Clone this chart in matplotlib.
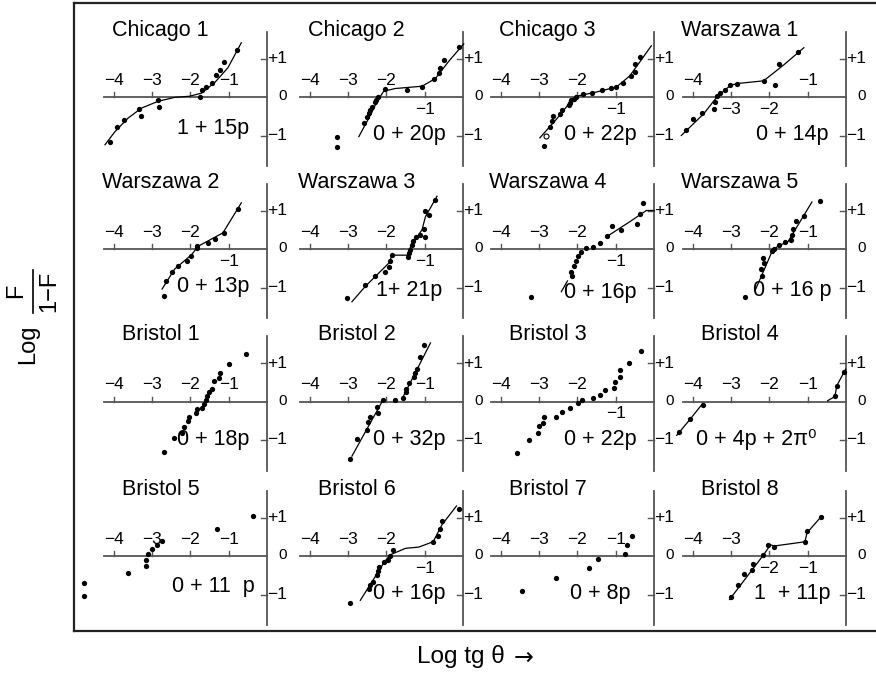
import matplotlib
matplotlib.use('Agg')
import matplotlib.pyplot as plt
from matplotlib.lines import Line2D

plt.rcParams['font.family'] = ['Liberation Sans', 'DejaVu Sans']

# ---- data (log tg theta, log F/(1-F)) ----
names = ['Chicago 1', 'Chicago 2', 'Chicago 3', 'Warszawa 1',
         'Warszawa 2', 'Warszawa 3', 'Warszawa 4', 'Warszawa 5',
         'Bristol 1', 'Bristol 2', 'Bristol 3', 'Bristol 4',
         'Bristol 5', 'Bristol 6', 'Bristol 7', 'Bristol 8']
formulas = ['1 + 15p', '0 + 20p', '0 + 22p', '0 + 14p',
            '0 + 13p', '1+ 21p', '0 + 16p', '0 + 16 p',
            '0 + 18p', '0 + 32p', '0 + 22p', '0 + 4p + 2\u03c0\u2070',
            '0 + 11  p', '0 + 16p', '0 + 8p', '1  + 11p']
# tick labels drawn under the axis line (the rest sit above it)
labels_below = [[], [-1], [-1], [-3, -2],
                [-1], [-1], [-1], [],
                [], [], [-1], [],
                [], [-1], [], [-2, -1]]
tick_vals = [-4, -3, -2, -1]

chicago1_pts = [(-4.09, -1.17), (-3.91, -0.79), (-3.73, -0.61), (-3.34, -0.30), (-3.30, -0.49),
                (-2.84, -0.07), (-2.82, -0.26), (-1.76, -0.01), (-1.70, 0.17), (-1.60, 0.26),
                (-1.43, 0.37), (-1.33, 0.56), (-1.22, 0.71), (-1.11, 0.91), (-0.78, 1.22)]
chicago1_fit = [[(-4.23, -1.24), (-3.97, -0.90), (-3.63, -0.55), (-3.28, -0.29), (-2.84, -0.11),
                 (-2.41, -0.01), (-2.02, 0.02), (-1.71, 0.10), (-1.37, 0.37), (-1.02, 0.76),
                 (-0.67, 1.41)]]

chicago2_pts = [(-3.29, -1.03), (-3.29, -1.29), (-2.58, -0.68), (-2.50, -0.53), (-2.46, -0.42),
                (-2.42, -0.33), (-2.37, -0.27), (-2.30, -0.13), (-2.26, -0.07), (-2.23, -0.01),
                (-2.03, 0.22), (-1.46, 0.17), (-1.07, 0.26), (-0.77, 0.48), (-0.63, 0.63),
                (-0.61, 0.76), (-0.50, 0.96), (-0.10, 1.30)]
chicago2_fit = [[(-2.72, -1.03), (-2.46, -0.55), (-2.24, -0.11), (-2.07, 0.15), (-1.77, 0.22),
                 (-1.07, 0.28), (-0.72, 0.48), (-0.37, 0.93), (0.02, 1.38)]]

chicago3_pts = [(-2.88, -1.28), (-2.72, -0.78), (-2.66, -0.63), (-2.63, -0.50), (-2.46, -0.43),
                (-2.39, -0.35), (-2.23, -0.20), (-2.20, -0.15), (-2.16, -0.09), (-2.10, -0.04),
                (-2.04, -0.01), (-1.85, 0.09), (-1.63, 0.11), (-1.35, 0.17), (-1.11, 0.23),
                (-0.98, 0.27), (-0.81, 0.36), (-0.61, 0.55), (-0.49, 0.65), (-0.49, 0.87),
                (-0.36, 1.04)]
chicago3_open = [(-2.83, -1.00)]
chicago3_fit = [[(-2.98, -1.06), (-2.55, -0.58), (-2.20, -0.15), (-1.98, 0.03), (-1.50, 0.13),
                 (-0.98, 0.26), (-0.63, 0.55), (-0.07, 1.33)]]

warszawa1_pts = [(-4.19, -0.85), (-3.99, -0.58), (-3.77, -0.42), (-3.45, -0.30), (-3.43, -0.13),
                 (-3.37, 0.02), (-3.28, 0.11), (-3.15, 0.17), (-3.02, 0.32), (-2.84, 0.35),
                 (-2.15, 0.42), (-1.86, 0.32), (-1.74, 0.87), (-1.26, 1.17)]
warszawa1_fit = [[(-4.30, -1.00), (-3.71, -0.43), (-3.37, 0.00), (-3.02, 0.30), (-2.84, 0.35),
                  (-2.15, 0.42), (-1.63, 0.83), (-1.10, 1.28)]]

warszawa2_pts = [(-2.69, -1.22), (-2.65, -0.84), (-2.48, -0.60), (-2.32, -0.43), (-2.10, -0.30),
                 (-1.99, -0.17), (-1.84, 0.03), (-1.82, 0.07), (-1.54, 0.16), (-1.35, 0.27),
                 (-1.13, 0.42), (-0.77, 1.05)]
warszawa2_fit = [[(-2.74, -1.04), (-2.41, -0.52), (-1.97, -0.15), (-1.80, 0.07), (-1.15, 0.42),
                  (-0.67, 1.20)]]

warszawa3_pts = [(-3.03, -1.27), (-2.55, -0.94), (-2.29, -0.70), (-2.04, -0.59), (-1.94, -0.48),
                 (-1.91, -0.30), (-1.85, -0.16), (-1.44, -0.20), (-1.42, -0.10), (-1.39, -0.03),
                 (-1.33, 0.10), (-1.30, 0.21), (-1.24, 0.30), (-1.13, 0.37), (-1.03, 0.52),
                 (-1.00, 0.30), (-0.98, 1.00), (-0.90, 0.89), (-0.72, 1.26)]
warszawa3_fit = [[(-2.90, -1.37), (-2.55, -0.97), (-1.94, -0.37), (-1.85, -0.16), (-1.44, -0.16),
                  (-1.37, 0.06), (-1.07, 0.50), (-0.98, 0.84), (-0.68, 1.37)]]

warszawa4_pts = [(-3.20, -1.24), (-2.17, -0.59), (-2.14, -0.71), (-2.09, -0.43), (-2.04, -0.30),
                 (-1.98, -0.19), (-1.90, -0.07), (-1.78, 0.02), (-1.59, 0.04), (-1.42, 0.15),
                 (-1.22, 0.33), (-1.09, 0.59), (-0.85, 0.50), (-0.44, 0.65), (-0.36, 0.91),
                 (-0.30, 1.20)]
warszawa4_fit = [[(-2.42, -1.11), (-2.26, -0.83)],
                 [(-1.22, 0.33), (-0.63, 0.71), (-0.20, 1.00), (0.00, 1.00)]]

warszawa5_pts = [(-2.65, -1.24), (-2.21, -0.52), (-2.19, -0.71), (-2.17, -0.23), (-2.15, -0.37),
                 (-1.93, -0.06), (-1.89, 0.00), (-1.76, 0.10), (-1.58, 0.17), (-1.43, 0.23),
                 (-1.41, 0.37), (-1.38, 0.52), (-1.30, 0.72), (-1.10, 0.87), (-0.67, 1.24)]
warszawa5_fit = [[(-2.37, -1.07), (-2.15, -0.57), (-1.93, -0.06), (-1.76, 0.09), (-1.52, 0.18),
                  (-1.40, 0.38), (-0.89, 1.22)]]

bristol1_pts = [(-2.69, -1.32), (-2.44, -0.96), (-2.22, -0.82), (-2.17, -0.65), (-2.06, -0.50),
                (-2.03, -0.39), (-1.86, -0.30), (-1.83, -0.19), (-1.70, -0.17), (-1.65, -0.06),
                (-1.60, 0.04), (-1.56, 0.14), (-1.51, 0.24), (-1.43, 0.33), (-1.38, 0.52),
                (-1.25, 0.61), (-1.22, 0.75), (-1.00, 0.98), (-0.56, 1.24)]
bristol1_fit = []

bristol2_pts = [(-2.94, -1.49), (-2.77, -0.97), (-2.50, -0.74), (-2.48, -0.53), (-2.44, -0.40),
                (-2.24, -0.13), (-2.22, -0.31), (-2.10, 0.04), (-1.77, 0.04), (-1.57, 0.08),
                (-1.50, 0.25), (-1.48, 0.32), (-1.42, 0.48), (-1.29, 0.63), (-1.26, 0.74),
                (-1.20, 0.84), (-1.13, 1.15), (-1.03, 1.47)]
bristol2_fit = [[(-2.90, -1.42), (-2.10, 0.02)],
                [(-1.55, 0.15), (-0.85, 1.52)]]

bristol3_pts = [(-3.59, -1.33), (-3.26, -1.01), (-3.04, -0.83), (-3.01, -0.63), (-2.91, -0.55),
                (-2.88, -0.40), (-2.57, -0.39), (-2.39, -0.27), (-2.20, -0.16), (-1.98, -0.05),
                (-1.87, 0.04), (-1.59, 0.09), (-1.42, 0.17), (-1.29, 0.29), (-1.05, 0.34),
                (-1.01, 0.50), (-0.90, 0.64), (-0.88, 0.83), (-0.66, 1.00), (-0.35, 1.30)]
bristol3_fit = []

bristol4_pts = [(-4.35, -0.79), (-4.07, -0.46), (-3.74, -0.08), (-0.29, 0.13), (-0.24, 0.41),
                (-0.04, 0.77)]
bristol4_fit = [[(-4.42, -0.88), (-4.07, -0.46), (-3.74, -0.05)],
                [(-0.48, 0.02), (-0.29, 0.13), (-0.24, 0.41), (-0.01, 0.84)]]

bristol5_pts = [(-4.77, -0.71), (-4.77, -1.03), (-3.64, -0.43), (-3.17, -0.26), (-3.15, -0.10),
                (-3.10, 0.04), (-3.00, 0.17), (-2.87, 0.29), (-2.74, 0.39), (-1.30, 0.70),
                (-0.37, 1.04)]
bristol5_fit = []

bristol6_pts = [(-2.94, -1.22), (-2.46, -0.87), (-2.44, -0.76), (-2.35, -0.67), (-2.24, -0.50),
                (-2.23, -0.38), (-2.20, -0.28), (-2.07, -0.15), (-1.96, -0.10), (-1.90, 0.00),
                (-1.83, 0.16), (-0.78, 0.37), (-0.65, 0.53), (-0.59, 0.70), (-0.55, 0.90),
                (-0.11, 1.22)]
bristol6_fit = [[(-2.68, -1.15), (-2.30, -0.55), (-2.05, -0.15), (-1.90, 0.03), (-1.50, 0.20),
                 (-1.16, 0.23), (-0.78, 0.37), (-0.55, 0.81), (-0.17, 1.30)]]

bristol7_pts = [(-3.44, -0.91), (-2.57, -0.56), (-1.70, -0.30), (-1.46, -0.09), (-0.75, 0.05),
                (-0.70, 0.29), (-0.57, 0.52)]
bristol7_fit = []

bristol8_pts = [(-3.00, -1.07), (-2.81, -0.76), (-2.67, -0.46), (-2.46, -0.37), (-2.42, -0.22),
                (-2.16, 0.02), (-2.03, 0.28), (-1.87, 0.24), (-1.07, 0.37), (-1.02, 0.65),
                (-0.65, 1.02)]
bristol8_fit = [[(-3.04, -1.13), (-2.16, 0.02), (-1.97, 0.29), (-1.87, 0.26), (-1.07, 0.37),
                 (-1.02, 0.60), (-0.65, 1.02)]]

all_pts = [chicago1_pts, chicago2_pts, chicago3_pts, warszawa1_pts,
           warszawa2_pts, warszawa3_pts, warszawa4_pts, warszawa5_pts,
           bristol1_pts, bristol2_pts, bristol3_pts, bristol4_pts,
           bristol5_pts, bristol6_pts, bristol7_pts, bristol8_pts]
all_fits = [chicago1_fit, chicago2_fit, chicago3_fit, warszawa1_fit,
            warszawa2_fit, warszawa3_fit, warszawa4_fit, warszawa5_fit,
            bristol1_fit, bristol2_fit, bristol3_fit, bristol4_fit,
            bristol5_fit, bristol6_fit, bristol7_fit, bristol8_fit]

W, H = 876, 674
fig = plt.figure(figsize=(W / 100, H / 100), dpi=100)

# outer frame
frame = fig.add_axes([74 / W, 43 / H, 804 / W, 628 / H])
frame.set_xticks([])
frame.set_yticks([])
frame.patch.set_alpha(0)
for s in frame.spines.values():
    s.set_linewidth(1.6)
    s.set_color('#222222')

# x label (arrow from DejaVu, it is longer there)
fig.text(505 / W, 1 - 657 / H, 'Log tg \u03b8', ha='right', va='center', fontsize=17.5)
fig.text(514 / W, 1 - 658 / H, '\u2192', ha='left', va='center', fontsize=17,
         family=['DejaVu Sans'])

# y label: Log F / (1-F), rotated, built from pieces
fig.text(28 / W, 1 - 344 / H, 'Log', rotation=90, ha='center', va='center', fontsize=17)
fig.text(16 / W, 1 - 291 / H, 'F', rotation=90, ha='center', va='center', fontsize=17)
fig.text(49 / W, 1 - 291 / H, '1\u2212F', rotation=90, ha='center', va='center', fontsize=17)
fig.add_artist(Line2D([33 / W, 33 / W], [1 - 270 / H, 1 - 313 / H], color='black', lw=1.2))

# panel grid (pixel position of each panel's origin)
col_x = [267, 463, 654, 846]
row_y = [97, 249, 401.5, 556]
ux, uy = 38.3, 38.5
xlo, xhi, ylo, yhi = -4.9, 0.7, -1.9, 1.9
axis_col = '#555555'

for i, name in enumerate(names):
    r, c = divmod(i, 4)
    left = col_x[c] + xlo * ux
    top = row_y[r] - yhi * uy
    w = (xhi - xlo) * ux
    h = (yhi - ylo) * uy
    ax = fig.add_axes([left / W, 1 - (top + h) / H, w / W, h / H])
    ax.set_xlim(xlo, xhi)
    ax.set_ylim(ylo, yhi)
    ax.axis('off')

    # axes drawn by hand, as in the original figure
    ax.plot([-4.25, 0], [0, 0], color=axis_col, lw=1.3, clip_on=False)
    ax.plot([0, 0], [-1.8, 1.7], color=axis_col, lw=1.3, clip_on=False)
    for t in tick_vals:
        ax.plot([t, t], [0, 0.12], color=axis_col, lw=1.0)
        if t in labels_below[i]:
            ax.text(t, -0.32, '\u2212%d' % -t, ha='center', va='center', fontsize=12.5)
        else:
            ax.text(t, 0.43, '\u2212%d' % -t, ha='center', va='center', fontsize=12.5)
    for v, lab in [(1, '+1'), (-1, '\u22121')]:
        ax.plot([-0.15, 0], [v, v], color=axis_col, lw=1.0)
        ax.text(0.52, v, lab, ha='right', va='center', fontsize=12.5)
    ax.text(0.52, 0.02, '0', ha='right', va='center', fontsize=11)

    for seg in all_fits[i]:
        ax.plot([p[0] for p in seg], [p[1] for p in seg], color='black', lw=0.9, clip_on=False)
    pts = all_pts[i]
    ax.plot([p[0] for p in pts], [p[1] for p in pts], 'o', color='black', ms=3.8,
            mec='none', clip_on=False)
    if name == 'Chicago 3':
        ax.plot([p[0] for p in chicago3_open], [p[1] for p in chicago3_open], 'o',
                mfc='white', mec='black', ms=3.6, mew=0.8)

    ax.text(-2.78, 1.73, name, ha='center', va='center', fontsize=15.5)
    fx = -2.35 if name == 'Bristol 4' else -1.4
    fy = {'Chicago 1': -0.81, 'Bristol 5': -0.80, 'Warszawa 4': -1.12,
          'Warszawa 5': -1.09, 'Warszawa 3': -1.07}.get(name, -0.98)
    ax.text(fx, fy, formulas[i], ha='center', va='center', fontsize=15.5)

fig.savefig('out.png', dpi=100)
